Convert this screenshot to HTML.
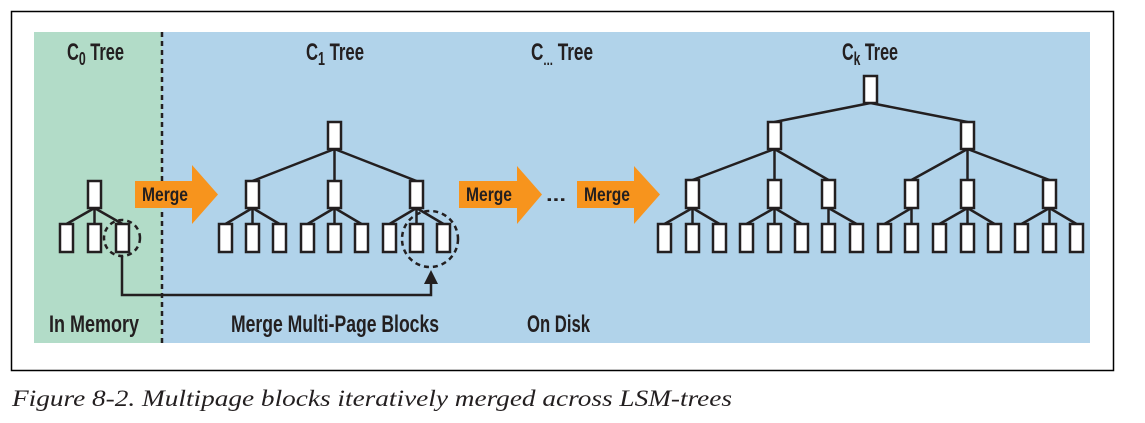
<!DOCTYPE html>
<html><head><meta charset="utf-8"><style>
html,body{margin:0;padding:0;background:#fff;width:1145px;height:423px;overflow:hidden}
svg text.s{font-family:"Liberation Sans Narrow","Liberation Sans",sans-serif;fill:#231f20;font-weight:bold}
svg text.cap{font-family:"Liberation Serif","DejaVu Serif",serif;font-style:italic;fill:#231f20}
</style></head><body>
<svg width="1145" height="423" viewBox="0 0 1145 423" xmlns="http://www.w3.org/2000/svg">
<rect x="11.5" y="11.5" width="1102" height="359" fill="#fff" stroke="#000" stroke-width="1.5"/>
<rect x="34" y="32" width="128" height="311" fill="#b2dcc8"/>
<rect x="162" y="32" width="928" height="311" fill="#b1d3ea"/>
<line x1="162" y1="32" x2="162" y2="343" stroke="#231f20" stroke-width="2.5" stroke-dasharray="5,4"/>

<g font-size="24">
<text class="s" x="67" y="60" textLength="57" lengthAdjust="spacingAndGlyphs">C<tspan font-size="18" dy="5">0</tspan><tspan dy="-5"> Tree</tspan></text>
<text class="s" x="306" y="60" textLength="58" lengthAdjust="spacingAndGlyphs">C<tspan font-size="18" dy="5">1</tspan><tspan dy="-5"> Tree</tspan></text>
<text class="s" x="531" y="60" textLength="62" lengthAdjust="spacingAndGlyphs">C<tspan font-size="16" dy="5">...</tspan><tspan dy="-5"> Tree</tspan></text>
<text class="s" x="842" y="60" textLength="56" lengthAdjust="spacingAndGlyphs">C<tspan font-size="18" dy="5">k</tspan><tspan dy="-5"> Tree</tspan></text>
<text class="s" x="49" y="332" textLength="90" lengthAdjust="spacingAndGlyphs">In Memory</text>
<text class="s" x="231" y="332" textLength="208" lengthAdjust="spacingAndGlyphs">Merge Multi-Page Blocks</text>
<text class="s" x="527" y="332" textLength="63" lengthAdjust="spacingAndGlyphs">On Disk</text>
</g>

<g fill="#f7941d">
<polygon points="135,181 192,181 192,165 218,194.5 192,224 192,208 135,208"/>
<polygon points="459,181 517,181 517,166 542,194.5 517,224 517,208 459,208"/>
<polygon points="577,181 634,181 634,166 660,194.5 634,224 634,208 577,208"/>
</g>
<g font-size="19">
<text class="s" x="142" y="201" textLength="46" lengthAdjust="spacingAndGlyphs">Merge</text>
<text class="s" x="466" y="201" textLength="46" lengthAdjust="spacingAndGlyphs">Merge</text>
<text class="s" x="584" y="201" textLength="46" lengthAdjust="spacingAndGlyphs">Merge</text>
<text class="s" x="546" y="201" font-size="18" textLength="20" lengthAdjust="spacingAndGlyphs">...</text>
</g>

<g stroke="#231f20" stroke-width="2.5" fill="none">
<path d="M94.5,208 L66.5,224 M94.5,208 V224 M94.5,208 L122.5,224"/>
<path d="M334.5,149 L252.5,181 M334.5,149 V181 M334.5,149 L416.5,181"/>
<path d="M252.5,208 L225.5,224 M252.5,208 V224 M252.5,208 L279.5,224"/>
<path d="M334.5,208 L307.5,224 M334.5,208 V224 M334.5,208 L361.5,224"/>
<path d="M416.5,208 L389.5,224 M416.5,208 V224 M416.5,208 L443.5,224"/>
<path d="M870.5,103 L774.5,122 M870.5,103 L967.5,122"/>
<path d="M774.5,149 L692.5,180 M774.5,149 V180 M774.5,149 L828.5,180"/>
<path d="M967.5,149 L911.5,180 M967.5,149 V180 M967.5,149 L1049.5,180"/>
<path d="M692.5,208 L664.5,224 M692.5,208 V224 M692.5,208 L719.5,224"/>
<path d="M774.5,208 L746.5,224 M774.5,208 V224 M774.5,208 L801.5,224"/>
<path d="M828.5,208 V224 M828.5,208 L856.5,224"/>
<path d="M911.5,208 L884.5,224 M911.5,208 V224"/>
<path d="M967.5,208 L939.5,224 M967.5,208 V224 M967.5,208 L994.5,224"/>
<path d="M1049.5,208 L1021.5,224 M1049.5,208 V224 M1049.5,208 L1076.5,224"/>
<path d="M122,256 V295 H431 V282"/>
</g>
<polygon points="424,284 438,284 431,270" fill="#231f20"/>
<g stroke="#231f20" stroke-width="2.5" fill="none" stroke-dasharray="5,4">
<ellipse cx="122" cy="238" rx="18" ry="18"/>
<ellipse cx="430" cy="239" rx="28" ry="28"/>
</g>

<g fill="#fff" stroke="#231f20" stroke-width="2.5">
<rect x="88" y="181" width="13" height="27"/>
<rect x="60" y="224" width="13" height="28"/><rect x="88" y="224" width="13" height="28"/><rect x="116" y="224" width="13" height="28"/>

<rect x="328" y="122" width="13" height="27"/>
<rect x="246" y="181" width="13" height="27"/><rect x="328" y="181" width="13" height="27"/><rect x="410" y="181" width="13" height="27"/>
<rect x="219" y="224" width="13" height="28"/><rect x="246" y="224" width="13" height="28"/><rect x="273" y="224" width="13" height="28"/>
<rect x="301" y="224" width="13" height="28"/><rect x="328" y="224" width="13" height="28"/><rect x="355" y="224" width="13" height="28"/>
<rect x="383" y="224" width="13" height="28"/><rect x="410" y="224" width="13" height="28"/><rect x="437" y="224" width="13" height="28"/>

<rect x="864" y="76" width="13" height="27"/>
<rect x="768" y="122" width="13" height="27"/><rect x="961" y="122" width="13" height="27"/>
<rect x="686" y="180" width="13" height="28"/><rect x="768" y="180" width="13" height="28"/><rect x="822" y="180" width="13" height="28"/>
<rect x="905" y="180" width="13" height="28"/><rect x="961" y="180" width="13" height="28"/><rect x="1043" y="180" width="13" height="28"/>
<rect x="658" y="224" width="13" height="28"/><rect x="686" y="224" width="13" height="28"/><rect x="713" y="224" width="13" height="28"/>
<rect x="740" y="224" width="13" height="28"/><rect x="768" y="224" width="13" height="28"/><rect x="795" y="224" width="13" height="28"/>
<rect x="822" y="224" width="13" height="28"/><rect x="850" y="224" width="13" height="28"/>
<rect x="878" y="224" width="13" height="28"/><rect x="905" y="224" width="13" height="28"/>
<rect x="933" y="224" width="13" height="28"/><rect x="961" y="224" width="13" height="28"/><rect x="988" y="224" width="13" height="28"/>
<rect x="1015" y="224" width="13" height="28"/><rect x="1043" y="224" width="13" height="28"/><rect x="1070" y="224" width="13" height="28"/>
</g>

<text class="cap" x="12" y="406" font-size="23" textLength="720" lengthAdjust="spacingAndGlyphs">Figure 8-2. Multipage blocks iteratively merged across LSM-trees</text>
</svg>
</body></html>
